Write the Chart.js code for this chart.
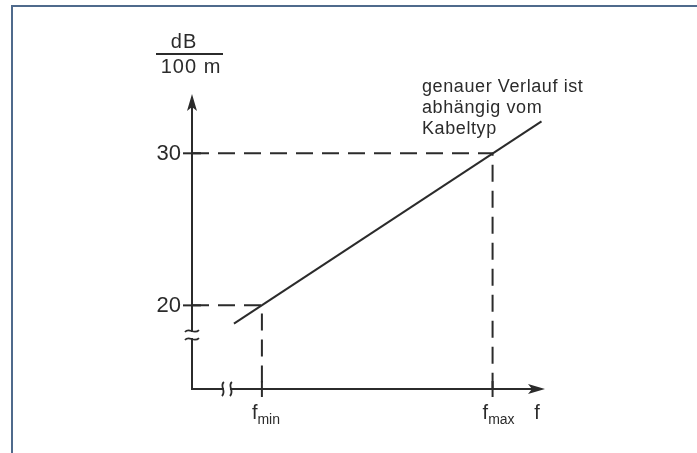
<!DOCTYPE html>
<html>
<head>
<meta charset="utf-8">
<script src="https://cdn.jsdelivr.net/npm/chart.js@4/dist/chart.umd.min.js"></script>
<style>
  html, body { margin: 0; padding: 0; background: #fff; }
  .wrap { position: relative; width: 697px; height: 453px; overflow: hidden; }
  .frame { position: absolute; left: 11px; top: 5px; width: 800px; height: 600px;
           border-top: 2px solid #4f6a8c; border-left: 2px solid #4f6a8c; }
  canvas { position: absolute; left: 0; top: 0; }
</style>
</head>
<body>
<div class="wrap">
  <div class="frame"></div>
  <canvas id="chart" width="697" height="453"></canvas>
</div>
<script>
// values
const yTicks = [20, 30];
const xTicks = [2.0, 8.6];
const xTickNames = [['f', 'min'], ['f', 'max']];
const xAxisName = 'f';
const unitTop = 'dB';
const unitBottom = '100 m';
const lineX = [1.2, 10.0];
const lineY = [18.8, 32.1];
const note = ['genauer Verlauf ist', 'abhängig vom', 'Kabeltyp'];

const Y_MIN = 14.5, Y_MAX = 33.9;
const X_MIN = 0, X_MAX = 10.1;
const ink = '#2b2b2b';
const font = '"Liberation Sans", Arial, sans-serif';

const mainLine = lineX.map((x, i) => ({ x: x, y: lineY[i] }));
// dashed guides from the y axis to the curve and down to the x axis
const guides = yTicks.map((v, i) => ({
  data: [{ x: X_MIN, y: v }, { x: xTicks[i], y: v }, { x: xTicks[i], y: Y_MIN }],
  borderColor: ink, borderWidth: 2, borderDash: [17, 9], pointRadius: 0,
  fill: false, tension: 0
}));

const axesPlugin = {
  id: 'axes',
  afterDatasetsDraw(chart) {
    const ctx = chart.ctx;
    const xs = chart.scales.x, ys = chart.scales.y;
    const x0 = xs.getPixelForValue(X_MIN);
    const y0 = ys.getPixelForValue(Y_MIN);
    const top = chart.chartArea.top, right = chart.chartArea.right;
    ctx.save();
    ctx.strokeStyle = ink; ctx.fillStyle = ink; ctx.lineWidth = 2;
    ctx.lineCap = 'butt';

    // axes
    ctx.beginPath();
    ctx.moveTo(x0, top + 12); ctx.lineTo(x0, y0); ctx.lineTo(right - 12, y0);
    ctx.stroke();
    // arrow heads
    ctx.beginPath();
    ctx.moveTo(x0, top); ctx.lineTo(x0 - 5, top + 17); ctx.lineTo(x0, top + 13); ctx.lineTo(x0 + 5, top + 17);
    ctx.closePath(); ctx.fill();
    ctx.beginPath();
    ctx.moveTo(right, y0); ctx.lineTo(right - 17, y0 - 5); ctx.lineTo(right - 13, y0); ctx.lineTo(right - 17, y0 + 5);
    ctx.closePath(); ctx.fill();

    // y axis break
    const by = ys.getPixelForValue(18.05);
    ctx.fillStyle = '#fff';
    ctx.fillRect(x0 - 3, by - 3, 6, 6);
    ctx.fillStyle = ink;
    ctx.lineWidth = 1.8;
    [by - 4, by + 4].forEach(yy => {
      ctx.beginPath();
      ctx.moveTo(x0 - 7, yy + 1);
      ctx.bezierCurveTo(x0 - 3, yy - 4, x0 + 2, yy + 4, x0 + 7, yy - 1);
      ctx.stroke();
    });
    // x axis break
    const bx = xs.getPixelForValue(1.0);
    ctx.fillStyle = '#fff';
    ctx.fillRect(bx - 3, y0 - 3, 6, 6);
    ctx.fillStyle = ink;
    [bx - 4, bx + 4].forEach(xx => {
      ctx.beginPath();
      ctx.moveTo(xx + 1, y0 - 7);
      ctx.bezierCurveTo(xx - 4, y0 - 3, xx + 4, y0 + 2, xx - 1, y0 + 7);
      ctx.stroke();
    });

    ctx.lineWidth = 2;
    // y ticks + labels
    ctx.font = '22px ' + font;
    ctx.textAlign = 'right'; ctx.textBaseline = 'middle';
    yTicks.forEach(v => {
      const py = ys.getPixelForValue(v);
      ctx.beginPath(); ctx.moveTo(x0 - 9, py); ctx.lineTo(x0 + 9, py); ctx.stroke();
      ctx.fillText(String(v), x0 - 11, py + 1);
    });
    // x ticks + labels
    xTicks.forEach((v, i) => {
      const px = xs.getPixelForValue(v);
      ctx.beginPath(); ctx.moveTo(px, y0 - 8); ctx.lineTo(px, y0 + 8); ctx.stroke();
      ctx.textAlign = 'left'; ctx.textBaseline = 'alphabetic';
      ctx.font = '20px ' + font;
      const fw = ctx.measureText(xTickNames[i][0]).width;
      ctx.fillText(xTickNames[i][0], px - 10, y0 + 30);
      ctx.font = '14px ' + font;
      ctx.fillText(xTickNames[i][1], px - 10 + fw, y0 + 35);
    });
    ctx.font = '20px ' + font;
    ctx.textAlign = 'center';
    ctx.fillText(xAxisName, right - 8, y0 + 30);

    // unit fraction above the y axis
    ctx.textAlign = 'center';
    ctx.font = '20px ' + font;
    ctx.letterSpacing = '1px';
    ctx.fillText(unitTop, x0 - 8, top - 46);
    ctx.fillText(unitBottom, x0 - 1, top - 21);
    ctx.beginPath(); ctx.moveTo(x0 - 36, top - 40); ctx.lineTo(x0 + 31, top - 40); ctx.stroke();

    // note
    ctx.textAlign = 'left';
    ctx.font = '18px ' + font;
    ctx.letterSpacing = '0.6px';
    const nx = xs.getPixelForValue(6.58);
    note.forEach((t, i) => ctx.fillText(t, nx, top - 2 + i * 21));
    ctx.restore();
  }
};

new Chart(document.getElementById('chart'), {
  type: 'scatter',
  data: {
    datasets: [
      { data: mainLine, showLine: true, borderColor: ink, borderWidth: 2, pointRadius: 0, fill: false },
      ...guides.map(g => Object.assign(g, { showLine: true }))
    ]
  },
  options: {
    responsive: false,
    animation: false,
    layout: { padding: { left: 192, right: 152, top: 94, bottom: 64 } },
    plugins: { legend: { display: false }, tooltip: { enabled: false } },
    scales: {
      x: { type: 'linear', min: X_MIN, max: X_MAX, display: false },
      y: { type: 'linear', min: Y_MIN, max: Y_MAX, display: false }
    }
  },
  plugins: [axesPlugin]
});
</script>
</body>
</html>
